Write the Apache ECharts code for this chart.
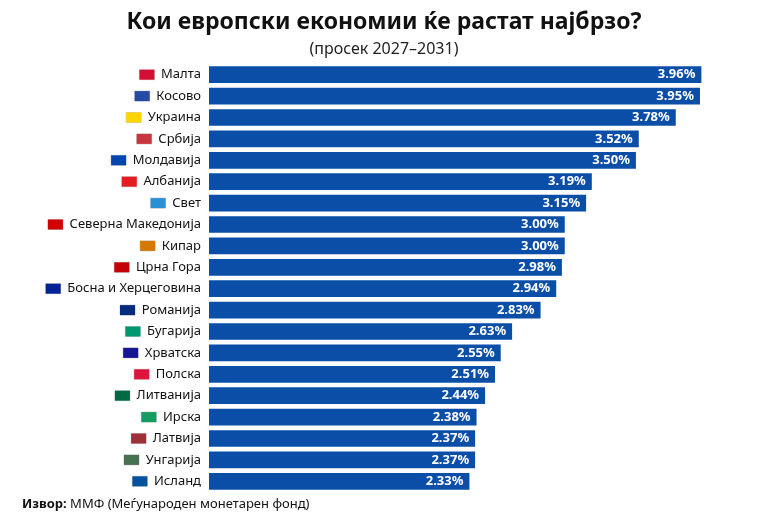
<!DOCTYPE html>
<html><head><meta charset="utf-8">
<script src="https://cdn.jsdelivr.net/npm/echarts@6/dist/echarts.min.js"></script>
<style>html,body{margin:0;background:#fff}#c{width:768px;height:522px}</style>
</head><body><div id="c"></div>
<script>
const countries = ['Малта','Косово','Украина','Србија','Молдавија','Албанија','Свет','Северна Македонија','Кипар','Црна Гора','Босна и Херцеговина','Романија','Бугарија','Хрватска','Полска','Литванија','Ирска','Латвија','Унгарија','Исланд'];
const growth = [3.96,3.95,3.78,3.52,3.50,3.19,3.15,3.00,3.00,2.98,2.94,2.83,2.63,2.55,2.51,2.44,2.38,2.37,2.37,2.33];
const flagColors = ['#d21034','#244aa5','#ffd500','#c6363c','#0046ae','#e41e20','#2b8fd6','#d20000','#d57800','#c40308','#002395','#002b7f','#00966e','#171796','#dc143c','#006a44','#169b62','#9e3039','#477050','#02529c'];

const rich = { t: { fontSize: 13, color: '#111', fontFamily: 'Noto Sans' } };
flagColors.forEach((c, i) => {
  rich['f' + i] = { width: 15, height: 10, backgroundColor: c, borderColor: '#ccc', borderWidth: 0.5 };
});

const chart = echarts.init(document.getElementById('c'));
chart.setOption({
  animation: false,
  title: [{
    text: 'Кои европски економии ќе растат најбрзо?',
    left: 'center', top: 6,
    textStyle: { fontSize: 23, fontWeight: 'bold', color: '#111', fontFamily: 'Noto Sans' }
  }, {
    text: '(просек 2027–2031)',
    left: 'center', top: 36,
    textStyle: { fontSize: 16, fontWeight: 'normal', color: '#222', fontFamily: 'Noto Sans' }
  }],
  graphic: [{
    type: 'text', left: 22, top: 498,
    style: {
      text: '{b|Извор:} ММФ (Меѓународен монетарен фонд)',
      rich: { b: { fontWeight: 'bold', fontSize: 13, fontFamily: 'Noto Sans', fill: '#111' } },
      fontSize: 13, fontFamily: 'Noto Sans', fill: '#111'
    }
  }],
  grid: { left: 209, right: 4, top: 64, bottom: 30 },
  xAxis: { type: 'value', min: 0.5, max: 4.4, show: false },
  yAxis: {
    type: 'category', inverse: true, data: countries,
    axisLine: { show: false }, axisTick: { show: false },
    axisLabel: {
      margin: 8,
      formatter: (v, i) => '{f' + i + '|}  {t|' + v + '}',
      rich: rich
    }
  },
  series: [{
    type: 'bar', data: growth, barWidth: '78%',
    itemStyle: { color: '#0b4ea8' },
    label: {
      show: true, position: 'insideRight', distance: 6,
      formatter: p => p.value.toFixed(2) + '%',
      color: '#fff', fontWeight: 'bold', fontSize: 13, fontFamily: 'Noto Sans'
    }
  }]
});
</script></body></html>
